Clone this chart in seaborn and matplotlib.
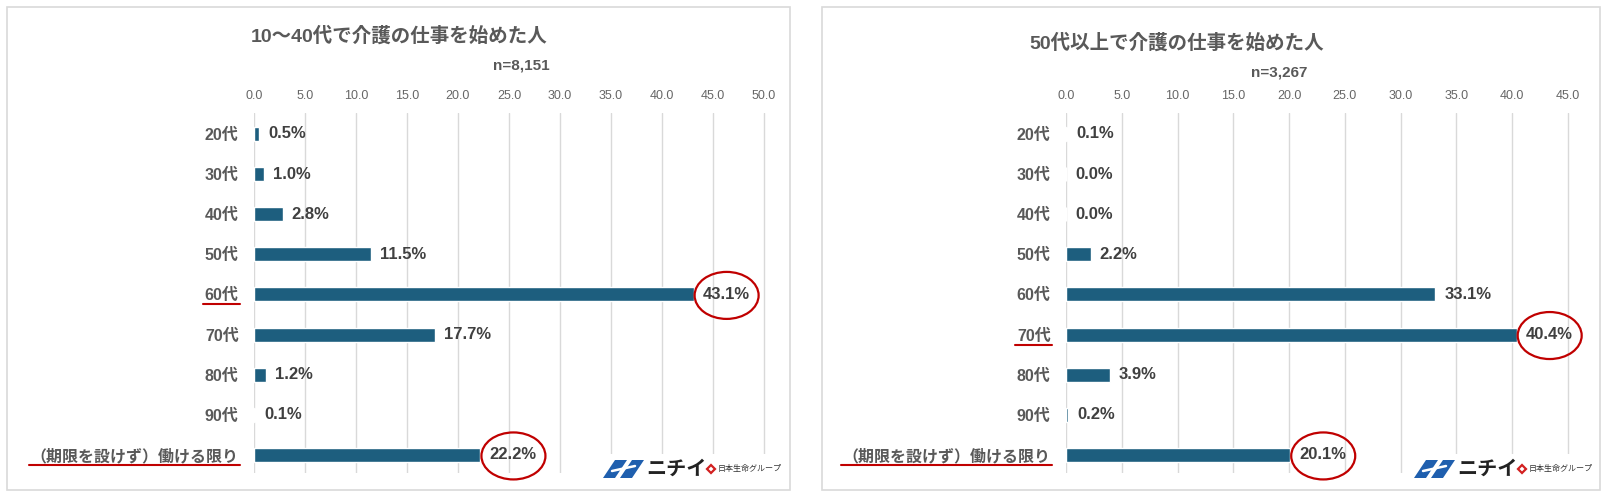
import matplotlib
matplotlib.use("Agg")
import matplotlib.pyplot as plt
import numpy as np
import pandas as pd
import seaborn as sns
from matplotlib.patches import Ellipse, Polygon, Rectangle
from matplotlib.lines import Line2D
from matplotlib.ticker import FormatStrFormatter
from matplotlib.transforms import ScaledTranslation

CATEGORIES = ["20代", "30代", "40代", "50代", "60代", "70代", "80代", "90代",
              "（期限を設けず）働ける限り"]
LEFT_VALUES = [0.5, 1.0, 2.8, 11.5, 43.1, 17.7, 1.2, 0.1, 22.2]
RIGHT_VALUES = [0.1, 0.0, 0.0, 2.2, 33.1, 40.4, 3.9, 0.2, 20.1]
LEFT_TITLE = "10～40代で介護の仕事を始めた人"
RIGHT_TITLE = "50代以上で介護の仕事を始めた人"
LEFT_N = "n=8,151"
RIGHT_N = "n=3,267"
LEFT_HIGHLIGHT = [4, 8]
RIGHT_HIGHLIGHT = [5, 8]
LEFT_XMAX = 50
RIGHT_XMAX = 45

BAR = "#1d5e7e"
RED = "#c00000"
GRAY = "#595959"
W, H = 1607, 497


def fx(px):
    return px / W


def fy(py):
    return 1 - py / H


def panel(fig, rect, values, xmax, highlight):
    x0, x1 = rect
    # a couple of pixels extra on the right so the last gridline is not clipped
    ax = fig.add_axes([fx(x0), fy(473), fx(x1 - x0 + 2), (473 - 113) / H])
    df = pd.DataFrame({"cat": CATEGORIES, "val": values})
    sns.barplot(data=df, x="val", y="cat", orient="h", color=BAR, saturation=1,
                width=0.35, ax=ax)
    ax.set_xlim(0, xmax * (x1 - x0 + 2) / (x1 - x0))
    ax.set_ylim(8.45, -0.52)
    ax.set_xlabel("")
    ax.set_ylabel("")
    ax.set_xticks(np.arange(0, xmax + 0.1, 5))
    ax.xaxis.set_major_formatter(FormatStrFormatter("%.1f"))
    ax.xaxis.tick_top()
    ax.tick_params(axis="x", length=0, pad=8, labelsize=9, labelcolor="#666666")
    ax.tick_params(axis="y", length=0, pad=11, labelsize=11.5, labelcolor=GRAY)
    for lbl in ax.get_yticklabels():
        lbl.set_fontweight("bold")
    ax.grid(axis="x", color="#d9d9d9", lw=1)
    ax.grid(axis="y", visible=False)
    ax.set_axisbelow(True)
    for s in ax.spines.values():
        s.set_visible(False)
    ax.set_facecolor("white")

    for i, v in enumerate(values):
        ax.annotate(f"{v:.1f}%", xy=(v, i), xytext=(6.5, 0), textcoords="offset points",
                    ha="left", va="center", fontsize=12, fontweight="bold", color="#404040")
    for i in highlight:
        tr = fig.dpi_scale_trans + ScaledTranslation(values[i], i, ax.transData)
        e = Ellipse((0.33, -0.01), 0.64, 0.47, transform=tr, fill=False,
                    edgecolor=RED, lw=1.6, clip_on=False)
        ax.add_patch(e)
    return ax


def underline(fig, ax, highlight):
    r = fig.canvas.get_renderer()
    labels = ax.get_yticklabels()
    inv = fig.transFigure.inverted()
    for i in highlight:
        bb = labels[i].get_window_extent(r)
        y = ax.transData.transform((0, i))[1] - 10
        (a, b), (c, d) = inv.transform([(bb.x0 - 2, y), (bb.x1 + 1, y)])
        fig.add_artist(Line2D([a, c], [b, d], color=RED, lw=1.5))


def logo(fig, x):
    fig.add_artist(Rectangle((fx(x - 7), fy(483)), fx(188), 29 / H, facecolor="white",
                             edgecolor="none", zorder=2))
    # stylised blue mark
    shapes = [
        [(x, 478), (x + 12, 460), (x + 24, 460), (x + 12, 478)],
        [(x + 17, 478), (x + 29, 460), (x + 41, 460), (x + 29, 478)],
    ]
    for pts in shapes:
        fig.add_artist(Polygon([(fx(a), fy(b)) for a, b in pts], closed=True,
                               facecolor="#1f5fae", edgecolor="none", zorder=3))
    fig.add_artist(Line2D([fx(x + 9), fx(x + 32)], [fy(471), fy(466)], color="white",
                          lw=1.8, zorder=4))
    fig.text(fx(x + 43), fy(469), "ニチイ", fontsize=14.5, fontweight="bold",
             color="#222222", ha="left", va="center", zorder=3)
    fig.add_artist(Line2D([fx(x + 108)], [fy(469)], marker="D", markersize=4.5,
                          markerfacecolor="white", markeredgecolor="#d22020",
                          markeredgewidth=1.6, zorder=3))
    fig.text(fx(x + 115), fy(469), "日本生命グループ", fontsize=5.8,
             color="#333333", ha="left", va="center", zorder=3)


sns.set_theme(style="white")
plt.rcParams["font.family"] = ["Liberation Sans", "Noto Sans CJK JP", "DejaVu Sans"]

fig = plt.figure(figsize=(W / 100, H / 100), dpi=100)
fig.patch.set_facecolor("white")

for x0, x1 in [(7, 790), (822, 1600)]:
    fig.add_artist(Rectangle((fx(x0), fy(490)), fx(x1 - x0), (490 - 7) / H, fill=False,
                             edgecolor="#d9d9d9", lw=1.2))

ax_l = panel(fig, (254, 764), LEFT_VALUES, LEFT_XMAX, LEFT_HIGHLIGHT)
ax_r = panel(fig, (1066, 1568), RIGHT_VALUES, RIGHT_XMAX, RIGHT_HIGHLIGHT)

fig.text(fx(399), fy(36), LEFT_TITLE, fontsize=14, fontweight="bold", color=GRAY,
         ha="center", va="center")
fig.text(fx(521), fy(66), LEFT_N, fontsize=11, fontweight="bold", color=GRAY,
         ha="center", va="center")
fig.text(fx(1177), fy(43), RIGHT_TITLE, fontsize=14, fontweight="bold", color=GRAY,
         ha="center", va="center")
fig.text(fx(1279), fy(72), RIGHT_N, fontsize=11, fontweight="bold", color=GRAY,
         ha="center", va="center")

logo(fig, 603)
logo(fig, 1414)

fig.canvas.draw()
underline(fig, ax_l, LEFT_HIGHLIGHT)
underline(fig, ax_r, RIGHT_HIGHLIGHT)

fig.savefig("out.png", dpi=100)
plt.close(fig)
